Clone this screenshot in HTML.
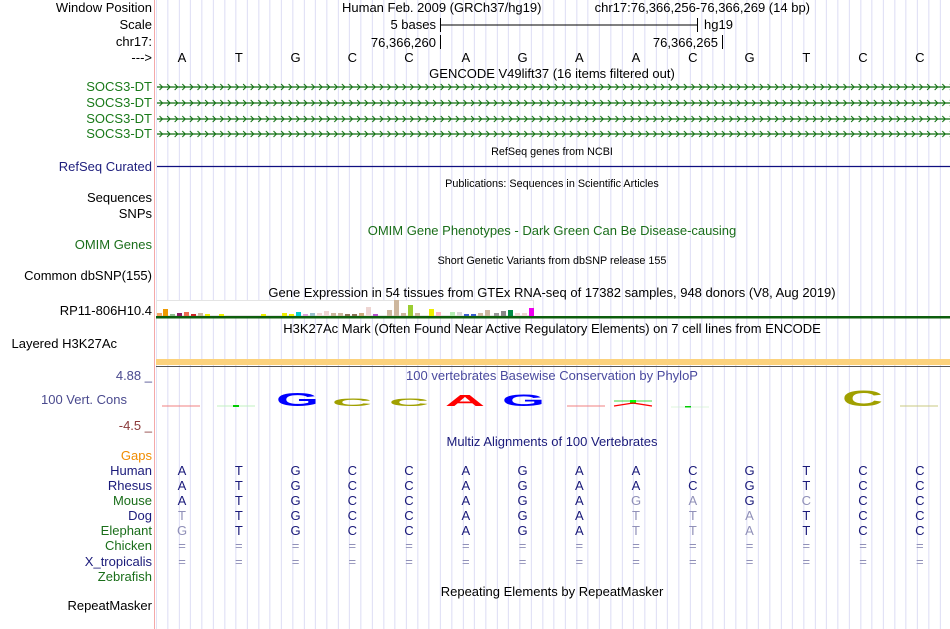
<!DOCTYPE html>
<html><head><meta charset="utf-8"><style>
body{margin:0;width:950px;height:629px;background:#fff;overflow:hidden;position:relative;font-family:"Liberation Sans",sans-serif}
#grid{position:absolute;left:155.6px;top:0;width:795px;height:629px;background:repeating-linear-gradient(to right,#dcdcf4 0 1px,transparent 1px 11.357px);background-position:11.357px 0}
#red{position:absolute;left:154px;top:0;width:1px;height:629px;background:#f4a8a8}
svg{position:absolute;left:0;top:0}
</style></head><body>
<div id="grid"></div><div id="red"></div>
<svg width="950" height="629" font-family="Liberation Sans, sans-serif">
<defs>
<pattern id="c1" x="157" y="82" width="7.6" height="10" patternUnits="userSpaceOnUse"><path d="M2.5,2 L5.5,5 L2.5,8" fill="none" stroke="#0d6e0d" stroke-width="1"/></pattern>
<pattern id="c2" x="157" y="98" width="7.6" height="10" patternUnits="userSpaceOnUse"><path d="M2.5,2 L5.5,5 L2.5,8" fill="none" stroke="#0d6e0d" stroke-width="1"/></pattern>
<pattern id="c3" x="157" y="114" width="7.6" height="10" patternUnits="userSpaceOnUse"><path d="M2.5,2 L5.5,5 L2.5,8" fill="none" stroke="#0d6e0d" stroke-width="1"/></pattern>
<pattern id="c4" x="157" y="129" width="7.6" height="10" patternUnits="userSpaceOnUse"><path d="M2.5,2 L5.5,5 L2.5,8" fill="none" stroke="#0d6e0d" stroke-width="1"/></pattern>
</defs>
<g font-size="13" text-anchor="end">
<text x="152" y="12" fill="#000">Window Position</text>
<text x="152" y="29" fill="#000">Scale</text>
<text x="152" y="46" fill="#000">chr17:</text>
<text x="152" y="62" fill="#000">---&gt;</text>
<text x="152" y="91" fill="#1a7a1a">SOCS3-DT</text>
<text x="152" y="107" fill="#1a7a1a">SOCS3-DT</text>
<text x="152" y="123" fill="#1a7a1a">SOCS3-DT</text>
<text x="152" y="138" fill="#1a7a1a">SOCS3-DT</text>
<text x="152" y="171" fill="#20207e">RefSeq Curated</text>
<text x="152" y="202" fill="#000">Sequences</text>
<text x="152" y="218" fill="#000">SNPs</text>
<text x="152" y="249" fill="#1a6e1a">OMIM Genes</text>
<text x="152" y="280" fill="#000">Common dbSNP(155)</text>
<text x="152" y="315" fill="#000">RP11-806H10.4</text>
<text x="117" y="348" fill="#000">Layered H3K27Ac</text>
<text x="152" y="380" fill="#4a4a8e">4.88 _</text>
<text x="127" y="404" fill="#4a4a8e">100 Vert. Cons</text>
<text x="152" y="430" fill="#8b3a3a">-4.5 _</text>
<text x="152" y="460" fill="#f08c00">Gaps</text>
<text x="152" y="475" fill="#1a1a7a">Human</text>
<text x="152" y="490" fill="#1a1a7a">Rhesus</text>
<text x="152" y="505" fill="#1a6e1a">Mouse</text>
<text x="152" y="520" fill="#1a1a7a">Dog</text>
<text x="152" y="535" fill="#1a6e1a">Elephant</text>
<text x="152" y="550" fill="#1a6e1a">Chicken</text>
<text x="152" y="566" fill="#1a1a7a">X_tropicalis</text>
<text x="152" y="581" fill="#1a6e1a">Zebrafish</text>
<text x="152" y="610" fill="#000">RepeatMasker</text>
</g>
<g font-size="13" fill="#000">
<text x="342" y="12">Human Feb. 2009 (GRCh37/hg19)</text>
<text x="810" y="12" text-anchor="end">chr17:76,366,256-76,366,269 (14 bp)</text>
<text x="436" y="29" text-anchor="end">5 bases</text>
<text x="704" y="29">hg19</text>
<text x="436" y="47" text-anchor="end">76,366,260</text>
<text x="718" y="47" text-anchor="end">76,366,265</text>
</g>
<g stroke="#000" stroke-width="1">
<line x1="440.5" y1="18" x2="440.5" y2="32"/><line x1="440" y1="25" x2="697" y2="25"/><line x1="697.5" y1="18" x2="697.5" y2="32"/>
<line x1="440.5" y1="35" x2="440.5" y2="49"/><line x1="722.5" y1="35" x2="722.5" y2="49"/>
</g>
<g font-size="13" text-anchor="middle" fill="#000">
<text x="182" y="62">A</text><text x="238.8" y="62">T</text><text x="295.5" y="62">G</text><text x="352.3" y="62">C</text><text x="409" y="62">C</text><text x="465.8" y="62">A</text><text x="522.5" y="62">G</text><text x="579.3" y="62">A</text><text x="636" y="62">A</text><text x="692.8" y="62">C</text><text x="749.5" y="62">G</text><text x="806.3" y="62">T</text><text x="863" y="62">C</text><text x="919.8" y="62">C</text>
<text x="552" y="78">GENCODE V49lift37 (16 items filtered out)</text>
<text x="552" y="155" font-size="10.8">RefSeq genes from NCBI</text>
<text x="552" y="187" font-size="10.8">Publications: Sequences in Scientific Articles</text>
<text x="552" y="235" fill="#1a6e1a">OMIM Gene Phenotypes - Dark Green Can Be Disease-causing</text>
<text x="552" y="264" font-size="10.8">Short Genetic Variants from dbSNP release 155</text>
<text x="552" y="297">Gene Expression in 54 tissues from GTEx RNA-seq of 17382 samples, 948 donors (V8, Aug 2019)</text>
<text x="552" y="333">H3K27Ac Mark (Often Found Near Active Regulatory Elements) on 7 cell lines from ENCODE</text>
<text x="552" y="380" fill="#4a4a9e">100 vertebrates Basewise Conservation by PhyloP</text>
<text x="552" y="446" fill="#1a1a7a">Multiz Alignments of 100 Vertebrates</text>
<text x="552" y="596">Repeating Elements by RepeatMasker</text>
</g>
<g>
<rect x="157" y="82" width="793" height="10" fill="url(#c1)"/>
<rect x="157" y="98" width="793" height="10" fill="url(#c2)"/>
<rect x="157" y="114" width="793" height="10" fill="url(#c3)"/>
<rect x="157" y="129" width="793" height="10" fill="url(#c4)"/>
<g stroke="#0d6e0d" stroke-width="1.3"><line x1="157" y1="87" x2="950" y2="87"/><line x1="157" y1="103" x2="950" y2="103"/><line x1="157" y1="119" x2="950" y2="119"/><line x1="157" y1="134" x2="950" y2="134"/></g>
<line x1="157" y1="166.5" x2="950" y2="166.5" stroke="#101080" stroke-width="1.3"/>
</g>
<rect x="156.5" y="300.5" width="377" height="15" fill="#fff" stroke="#e4e4e4"/>
<g>
<rect x="157" y="313" width="5" height="3" fill="#f4a460"/><rect x="163" y="309" width="5" height="7" fill="#ee9a00"/><rect x="170" y="314" width="5" height="2" fill="#8fbc8f"/><rect x="177" y="313" width="5" height="3" fill="#8b1c62"/><rect x="184" y="312" width="5" height="4" fill="#ee6a50"/><rect x="191" y="314" width="5" height="2" fill="#cd2626"/><rect x="198" y="313" width="5" height="3" fill="#cdb79e"/><rect x="205" y="314" width="5" height="2" fill="#eeee00"/><rect x="219" y="314" width="5" height="2" fill="#eeee00"/><rect x="261" y="314" width="5" height="2" fill="#eeee00"/><rect x="282" y="313" width="5" height="3" fill="#eeee00"/><rect x="289" y="314" width="5" height="2" fill="#eeee00"/><rect x="296" y="312" width="5" height="4" fill="#00cdcd"/><rect x="303" y="314" width="5" height="2" fill="#dda0dd"/><rect x="310" y="313" width="5" height="3" fill="#9ac0cd"/><rect x="317" y="313" width="5" height="3" fill="#eed5d2"/><rect x="324" y="311" width="5" height="5" fill="#eed5d2"/><rect x="331" y="313" width="5" height="3" fill="#cdb79e"/><rect x="338" y="313" width="5" height="3" fill="#cdb79e"/><rect x="345" y="314" width="5" height="2" fill="#8b7355"/><rect x="352" y="314" width="5" height="2" fill="#8b7355"/><rect x="359" y="313" width="5" height="3" fill="#cdaa7d"/><rect x="366" y="307" width="5" height="9" fill="#eed5d2"/><rect x="373" y="314" width="5" height="2" fill="#b452cd"/><rect x="387" y="310" width="5" height="6" fill="#cdb79e"/><rect x="394" y="300" width="5" height="16" fill="#cdb79e"/><rect x="401" y="313" width="5" height="3" fill="#cdb79e"/><rect x="408" y="305" width="5" height="11" fill="#9acd32"/><rect x="415" y="313" width="5" height="3" fill="#cdb79e"/><rect x="429" y="309" width="5" height="7" fill="#eeee00"/><rect x="436" y="312" width="5" height="4" fill="#ffb6c1"/><rect x="450" y="312" width="5" height="4" fill="#b4eeb4"/><rect x="457" y="312" width="5" height="4" fill="#d9d9d9"/><rect x="464" y="314" width="5" height="2" fill="#3a5fcd"/><rect x="471" y="314" width="5" height="2" fill="#3a5fcd"/><rect x="478" y="313" width="5" height="3" fill="#cdb79e"/><rect x="485" y="310" width="5" height="6" fill="#cdb79e"/><rect x="494" y="313" width="5" height="3" fill="#999"/><rect x="501" y="311" width="5" height="5" fill="#888"/><rect x="508" y="310" width="5" height="6" fill="#008b45"/><rect x="515" y="313" width="5" height="3" fill="#eed5d2"/><rect x="522" y="313" width="5" height="3" fill="#eed5d2"/><rect x="529" y="308" width="5" height="8" fill="#ee00ee"/>
</g>
<rect x="156" y="316" width="794" height="2.5" fill="#0d5e0d"/>
<rect x="156" y="359" width="794" height="6" fill="#fcd27c"/>
<line x1="156" y1="366.5" x2="950" y2="366.5" stroke="#555" stroke-width="1"/>
<g>
<line x1="162" y1="406" x2="200" y2="406" stroke="#f08080" stroke-width="1"/>
<line x1="217" y1="406" x2="255" y2="406" stroke="#c0f0c0" stroke-width="1"/><rect x="233" y="405" width="6" height="2" fill="#0c0"/>
<line x1="567" y1="406" x2="605" y2="406" stroke="#f08080" stroke-width="1"/>
<line x1="614" y1="401" x2="652" y2="401" stroke="#0c0" stroke-width="0.7"/><rect x="630" y="400" width="6" height="4" fill="#0f0"/>
<path d="M614,406 L633,403 L652,406" fill="none" stroke="#f00" stroke-width="1.3"/>
<line x1="671" y1="407" x2="709" y2="407" stroke="#d0f0d0" stroke-width="0.8"/><rect x="685" y="406" width="6" height="1.5" fill="#0c0"/>
<line x1="900" y1="406" x2="938" y2="406" stroke="#c8c880" stroke-width="1"/>
<g font-weight="bold">
<text x="276" y="406" font-size="18" fill="#0000ff" textLength="43" lengthAdjust="spacingAndGlyphs">G</text>
<text x="332" y="406" font-size="11" fill="#a0a000" textLength="40" lengthAdjust="spacingAndGlyphs">C</text>
<text x="389" y="406" font-size="11" fill="#a0a000" textLength="40" lengthAdjust="spacingAndGlyphs">C</text>
<text x="445" y="406" font-size="15.5" fill="#ff0000" textLength="40" lengthAdjust="spacingAndGlyphs">A</text>
<text x="502" y="406" font-size="17" fill="#0000ff" textLength="43" lengthAdjust="spacingAndGlyphs">G</text>
<text x="842" y="406" font-size="22" fill="#a0a000" textLength="41" lengthAdjust="spacingAndGlyphs">C</text>
</g>
</g>
<g font-size="13" text-anchor="middle" fill="#1a1a7a">
<g transform="translate(0,475)"><text x="182">A</text><text x="238.8">T</text><text x="295.5">G</text><text x="352.3">C</text><text x="409">C</text><text x="465.8">A</text><text x="522.5">G</text><text x="579.3">A</text><text x="636">A</text><text x="692.8">C</text><text x="749.5">G</text><text x="806.3">T</text><text x="863">C</text><text x="919.8">C</text></g>
<g transform="translate(0,490)"><text x="182">A</text><text x="238.8">T</text><text x="295.5">G</text><text x="352.3">C</text><text x="409">C</text><text x="465.8">A</text><text x="522.5">G</text><text x="579.3">A</text><text x="636">A</text><text x="692.8">C</text><text x="749.5">G</text><text x="806.3">T</text><text x="863">C</text><text x="919.8">C</text></g>
<g transform="translate(0,505)"><text x="182">A</text><text x="238.8">T</text><text x="295.5">G</text><text x="352.3">C</text><text x="409">C</text><text x="465.8">A</text><text x="522.5">G</text><text x="579.3">A</text><text x="636" fill="#9090b8">G</text><text x="692.8" fill="#9090b8">A</text><text x="749.5">G</text><text x="806.3" fill="#9090b8">C</text><text x="863">C</text><text x="919.8">C</text></g>
<g transform="translate(0,520)"><text x="182" fill="#9090b8">T</text><text x="238.8">T</text><text x="295.5">G</text><text x="352.3">C</text><text x="409">C</text><text x="465.8">A</text><text x="522.5">G</text><text x="579.3">A</text><text x="636" fill="#9090b8">T</text><text x="692.8" fill="#9090b8">T</text><text x="749.5" fill="#9090b8">A</text><text x="806.3">T</text><text x="863">C</text><text x="919.8">C</text></g>
<g transform="translate(0,535)"><text x="182" fill="#9090b8">G</text><text x="238.8">T</text><text x="295.5">G</text><text x="352.3">C</text><text x="409">C</text><text x="465.8">A</text><text x="522.5">G</text><text x="579.3">A</text><text x="636" fill="#9090b8">T</text><text x="692.8" fill="#9090b8">T</text><text x="749.5" fill="#9090b8">A</text><text x="806.3">T</text><text x="863">C</text><text x="919.8">C</text></g>
<g fill="#9090b8" transform="translate(0,550)"><text x="182">=</text><text x="238.8">=</text><text x="295.5">=</text><text x="352.3">=</text><text x="409">=</text><text x="465.8">=</text><text x="522.5">=</text><text x="579.3">=</text><text x="636">=</text><text x="692.8">=</text><text x="749.5">=</text><text x="806.3">=</text><text x="863">=</text><text x="919.8">=</text></g>
<g fill="#9090b8" transform="translate(0,566)"><text x="182">=</text><text x="238.8">=</text><text x="295.5">=</text><text x="352.3">=</text><text x="409">=</text><text x="465.8">=</text><text x="522.5">=</text><text x="579.3">=</text><text x="636">=</text><text x="692.8">=</text><text x="749.5">=</text><text x="806.3">=</text><text x="863">=</text><text x="919.8">=</text></g>
</g>
</svg>
</body></html>
